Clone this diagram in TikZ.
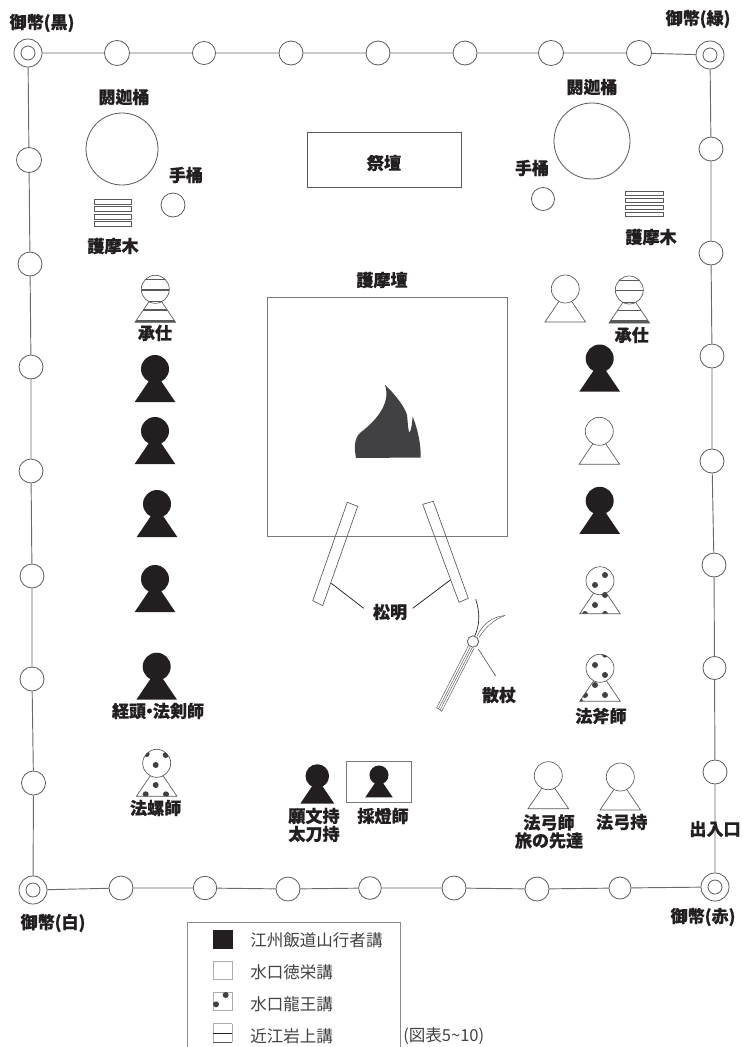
\documentclass[tikz,border=0pt]{standalone}
\usepackage{fontspec}
\setmainfont{Noto Sans CJK JP}[BoldFeatures={FakeBold=0.5}]
\usetikzlibrary{positioning}
\definecolor{ink}     {HTML}{231F20}
\definecolor{flame}   {HTML}{414042}
\definecolor{softink} {HTML}{58595B}
\tikzset{
  % --- nodes
  lbl/.style    = {font=\bfseries\fontsize{12.8}{13.5}\selectfont, text=ink, inner sep=0pt, align=center},
  lgd/.style    = {font=\fontsize{12.4}{14}\selectfont, text=ink!85, inner sep=0pt, anchor=west},
  post/.style   = {circle, draw=softink, line width=0.6pt, inner sep=0pt, minimum size=#1},
  post/.default = 18pt,
  holder/.style = {post=21pt},
  holdin/.style = {post=10.5pt},
  swatch/.style = {draw=softink!50, line width=0.4pt, inner sep=0pt, minimum size=13.8pt},
  % --- lines
  rope/.style   = {draw=softink!90, line width=0.7pt},
  thin/.style   = {draw=softink, line width=0.5pt},
  fine/.style   = {draw=softink, line width=0.35pt},
  lead/.style   = {draw=ink, line width=0.55pt},
  % --- people
  solidman/.pic = {
    \fill[ink] (-20.3,33) -- (0,3) -- (20.3,33) -- cycle;
    \fill[ink] (0,0) circle (14);
  },
  plainman/.pic = {
    \draw[thin, fill=white] (-20.3,33) -- (0,3) -- (20.3,33) -- cycle;
    \draw[thin, fill=white] (0,0) circle (14);
  },
  stripeman/.pic = {
    \draw[thin, fill=white] (-20.3,33) -- (0,3) -- (20.3,33) -- cycle;
    \draw[thin, fill=white] (0,0) circle (14);
    \begin{scope}
      \clip (0,0) circle (14) (-20.3,33) -- (-6,12) -- (6,12) -- (20.3,33) -- cycle;
      \foreach \ly/\lw in {-9.5/0.7, 0.7/1.1, 12.4/1.1, 20.7/0.8, 31/0.8, 32.7/1.3}
        \draw[softink, line width=\lw pt] (-22,\ly) -- (22,\ly);
    \end{scope}
  },
}
% head with spots, offsets given from the centre of the head
\newcommand{\spotman}[3]{
  \begin{scope}[shift={(#1,#2)}]
    \draw[thin, fill=white] (-20.3,33) -- (0,3) -- (20.3,33) -- cycle;
    \draw[thin, fill=white] (0,0) circle (14);
    \begin{scope}
      \clip (0,0) circle (14) (-20.3,33) -- (-6,12) -- (6,12) -- (20.3,33) -- cycle;
      \foreach \sx/\sy in {#3}
        \fill[flame] (\sx,\sy) circle (3);
    \end{scope}
  \end{scope}
}
\begin{document}
\begin{tikzpicture}[x=0.75pt, y=-0.75pt]
  \useasboundingbox (0,0) rectangle (743,1047);

  % corners
  \foreach \nm/\px/\py in {tl/28/53, tr/710/55, bl/33/890, br/715/887} {
    \node[holder] (\nm) at (\px,\py) {};
    \node[holdin] (\nm in) at (\px,\py) {};
  }
  % posts
  \foreach \nm/\px/\py/\ps in {t1/117/53/18.8, t2/204/53/17.3, t3/291/53/18, t4/378/53/18, t5/465/53/18,
      t6/551/53/18.8, t7/639/53/18.8,
      l1/29/160/18.8, l2/30/264/18, l3/31/367/18, l4/31/471/18, l5/32/576/18, l6/32/679/18, l7/33.5/783/18,
      r1/711/149/18, r2/711/253/18, r3/712/356/18, r4/712/461/18, r5/714/565/18, r6/714.5/668/17.3, r7/715/772/18,
      b1/121/888/18, b2/205/888/17.6, b3/288/889/18, b4/370/888/17, b5/454/888/18, b6/537/889/18, b7/620/888/16.5}
    \node[post=\ps pt] (\nm) at (\px,\py) {};
  \draw[rope] (tl)--(t1)--(t2)--(t3)--(t4)--(t5)--(t6)--(t7)--(tr);
  \draw[rope] (tl)--(l1)--(l2)--(l3)--(l4)--(l5)--(l6)--(l7)--(bl);
  \draw[rope] (tr)--(r1)--(r2)--(r3)--(r4)--(r5)--(r6)--(r7)--(br);
  \draw[rope] (bl)--(b1)--(b2)--(b3)--(b4)--(b5)--(b6)--(b7)--(br);

  \node[lbl] (tlname) at (42,23) {御幣(黒)};
  \node[lbl] (trname) at (698,19) {御幣(緑)};
  \node[lbl] (blname) at (53,923) {御幣(白)};
  \node[lbl] (brname) at (703,917) {御幣(赤)};
  \node[lbl] (gate) at (715,829) {出入口};

  % altar and hearth
  \node[thin, draw, minimum width=115.5pt, minimum height=41pt, inner sep=0pt] (altar) at (384,159.5) {};
  \node[lbl] (altarname) at (384,163) {祭壇};
  \node[lbl] (hearthname) at (382,280) {護摩壇};
  \node[draw=softink!80, line width=0.6pt, minimum size=179.5pt, inner sep=0pt] (hearth) at (387.5,417) {};
  \fill[flame] (356,458) .. controls (354,447) and (354,438) .. (361,432)
    .. controls (372,424) and (392,405) .. (385,385)
    .. controls (397,396) and (405,408) .. (407,415)
    .. controls (408,424) and (408,430) .. (409.5,433)
    .. controls (412,428) and (412,422) .. (412.7,416.5)
    .. controls (418,430) and (421,445) .. (420.7,457.5) -- cycle;

  % left side
  \node[post=54pt] (tubL) at (122,149) {};
  \node[lbl] (tubLname) at (124,97) {閼迦桶};
  \node[post=18pt] (pailL) at (173,205) {};
  \node[lbl] (pailLname) at (186,175) {手桶};
  \foreach \ly in {199,206,214,221}
    \draw[thin] (94,\ly) rectangle (131,\ly+5);
  \node[lbl] (woodLname) at (113,246) {護摩木};

  % right side
  \node[post=57pt] (tubR) at (592,141) {};
  \node[lbl] (tubRname) at (592,87) {閼迦桶};
  \node[post=17.3pt] (pailR) at (543,199) {};
  \node[lbl] (pailRname) at (532,168) {手桶};
  \foreach \ly in {191,198,205,212}
    \draw[thin] (625,\ly) rectangle (663,\ly+4.5);
  \node[lbl] (woodRname) at (651,237) {護摩木};

  % torches
  \draw[thin] (347.3,502.3) -- (357.7,506.3) -- (322.7,605.7) -- (312.7,600.7) -- cycle;
  \draw[thin] (422.7,504.3) -- (433.3,501.3) -- (468.3,598.3) -- (459,602.3) -- cycle;
  \node[lbl] (torchname) at (390,612) {松明};
  \coordinate (torchL) at (331.3,583.3);
  \coordinate (torchR) at (450.3,580);
  \draw[lead] (torchL) -- (363.7,608.3);
  \draw[lead] (torchR) -- (412.7,608.3);

  % sprinkling stick
  \draw[fine] (468.3,646) -- (436.7,707.7) -- (441.7,711.3) -- (474,648.3);
  \draw[fine] (470.2,647) -- (438.4,709);
  \draw[fine] (472.2,647.6) -- (440,710);
  \draw[ink, line width=0.5pt] (475.7,599.3) .. controls (480,612) and (480,625) .. (474.5,636.5);
  \draw[fine] (477,636) .. controls (482,626) and (490,617) .. (505,615.5);
  \draw[fine] (479,637.5) .. controls (485,628) and (493,620) .. (505,615.5);
  \node[post=8.5pt, fill=white] (knot) at (473,641.5) {};
  \draw[thin] (478.3,649) -- (495.7,676);
  \node[lbl] (stickname) at (499,695) {散杖};

  % people, left column
  \pic at (155.3,289.3) {stripeman};
  \node[lbl] (n1) at (155,333) {承仕};
  \pic at (155,369) {solidman};
  \pic at (155,431) {solidman};
  \pic at (157,504) {solidman};
  \pic at (155,579) {solidman};
  \pic at (156.7,666.7) {solidman};
  \node[lbl] (n2) at (158,711) {経頭\hspace{-0.3em}・\hspace{-0.3em}法剣師};
  \spotman{156.7}{763.3}{-1/1.7, 9/-8.3, -10/-9.3, -1/21.7, -11/31, 9.3/31}
  \node[lbl] (n3) at (155.7,808) {法螺師};

  % people, right column
  \pic at (565.3,289) {plainman};
  \pic at (629.3,290) {stripeman};
  \node[lbl] (n4) at (631.7,335) {承仕};
  \pic at (599.7,358.5) {solidman};
  \pic at (599.3,431.3) {plainman};
  \pic at (599.7,500.8) {solidman};
  \spotman{600}{580.7}{5/-5.7, -5/4.3, 5/14.3, -5/24.3, -15/33.3, 5/33.3}
  \spotman{600}{668.3}{-5/-3.3, 5/6.7, 5/-13.7, -5/16.7, 5/26.7, -15/26.7, -20/33}
  \node[lbl] (n5) at (601,716) {法斧師};

  % people, bottom row
  \pic[scale=0.84] at (317.3,776) {solidman};
  \node[lbl] (n6) at (314,825) {願文持\\太刀持};
  \node[draw=softink!80, line width=0.5pt, minimum width=48.7pt, minimum height=30.4pt, inner sep=0pt] (lampbox) at (379.2,782) {};
  \pic[scale=0.68] at (379,775) {solidman};
  \node[lbl] (n7) at (383,816) {採燈師};
  \pic at (548.3,775.7) {plainman};
  \node[lbl] (n8) at (549,831.5) {法弓師\\旅の先達};
  \pic at (620.3,777) {plainman};
  \node[lbl] (n9) at (621.7,822) {法弓持};

  % legend
  \draw[draw=softink!70, line width=0.5pt] (187.3,1047) -- (187.3,922.3) -- (400.7,922.3) -- (400.7,1047);
  \node[swatch, fill=ink, draw=ink] (sw1) at (222.7,939) {};
  \node[swatch] (sw2) at (222.7,970) {};
  \node[swatch] (sw3) at (222.7,1001.5) {};
  \node[minimum size=13.8pt, inner sep=0pt] (sw4) at (222.7,1033) {};
  \fill[flame] (225.7,995) circle (3);
  \fill[flame] (216,1004.3) circle (3);
  \draw[softink!50, line width=0.5pt] (sw4.north west) -- (sw4.north east);
  \draw[softink!50, line width=0.5pt] (sw4.north west) -- (sw4.south west);
  \draw[softink!50, line width=0.5pt] (sw4.north east) -- (sw4.south east);
  \draw[ink, line width=0.6pt] (sw4.west) -- (sw4.east);
  \draw[softink, line width=1.1pt] (sw4.south west) -- (sw4.south east);
  \node[lgd] (lg1) at (250,940) {江州飯道山行者講};
  \node[lgd] (lg2) at (250,972.7) {水口徳栄講};
  \node[lgd] (lg3) at (250,1004) {水口龍王講};
  \node[lgd] (lg4) at (250,1036) {近江岩上講};
  \node[lgd] (source) at (403,1036) {(図表5\textasciitilde10)};
\end{tikzpicture}
\end{document}
